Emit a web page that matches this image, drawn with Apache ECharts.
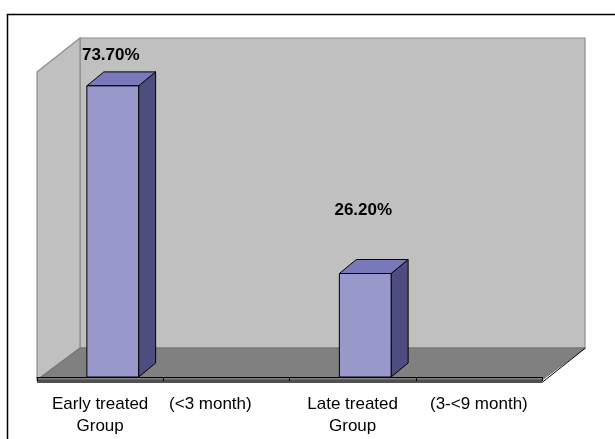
<!DOCTYPE html>
<html>
<head>
<meta charset="utf-8">
<script src="https://cdn.jsdelivr.net/npm/echarts@6/dist/echarts.min.js"></script>
<style>html,body{margin:0;padding:0;background:#fff}#c{width:615px;height:439px}</style>
</head>
<body>
<div id="c"></div>
<script>
const categories = ['Early treated\nGroup', '(<3 month)', 'Late treated\nGroup', '(3-<9 month)'];
const values = [73.7, null, 26.2, null];
const yMin = 0;
const yMax = 80;

const FONT = '"Liberation Sans", Arial, sans-serif';
const labelLift = [31, 63];

const chart = echarts.init(document.getElementById('c'), null, {renderer: 'canvas'});

const barData = [];
values.forEach(function (v, i) { if (v !== null) barData.push([i, v]); });

const option = {
  backgroundColor: '#ffffff',
  animation: false,
  grid: {left: 37, right: 73, top: 61, bottom: 62},
  graphic: [
    {type: 'rect', z: -5, shape: {x: 7.5, y: 14.5, width: 640, height: 460},
     style: {fill: null, stroke: '#000', lineWidth: 1.5}},
    {type: 'polygon', z: -4, shape: {points: [[80, 38], [585, 38], [585, 348], [80, 348]]},
     style: {fill: '#C0C0C0', stroke: '#8C8C8C', lineWidth: 1.2}},
    {type: 'polygon', z: -4, shape: {points: [[37, 72], [80, 38], [80, 348], [37, 380]]},
     style: {fill: '#C0C0C0', stroke: '#8C8C8C', lineWidth: 1.2}},
    {type: 'polygon', z: -3, shape: {points: [[80, 348], [585, 348], [542, 380], [37, 380]]},
     style: {fill: '#808080', stroke: '#707070', lineWidth: 1}},
    {type: 'polygon', z: -3, shape: {points: [[37, 379.5], [542, 379.5], [542, 383], [37, 383]]},
     style: {fill: '#505050', stroke: null}},
    {type: 'line', z: -2, shape: {x1: 542, y1: 382.5, x2: 585.5, y2: 348},
     style: {stroke: '#000', lineWidth: 1}}
  ],
  xAxis: {
    type: 'category',
    data: categories.map(function (c, i) {
      if (i === 1) return {value: c, textStyle: {padding: [0, 32, 0, 0]}};
      return c;
    }),
    offset: 6,
    axisLine: {show: true, lineStyle: {color: '#000', width: 1}},
    axisTick: {show: true, length: 4, lineStyle: {color: '#000'}},
    axisLabel: {
      interval: 0, margin: 10, color: '#000', fontSize: 17, fontFamily: FONT,
      lineHeight: 22
    },
    splitLine: {show: false}
  },
  yAxis: {
    type: 'value', min: yMin, max: yMax, show: false, splitLine: {show: false}
  },
  series: [{
    type: 'custom',
    data: barData,
    z: 5,
    renderItem: function (params, api) {
      const cat = api.value(0), v = api.value(1);
      const top = api.coord([cat, v]);
      const base = api.coord([cat, 0]);
      const bw = api.size([1, 0])[0];
      const w = bw * 0.41;
      const cx = top[0] + bw * 0.1;
      const x0 = cx - w / 2, x1 = cx + w / 2;
      const dx = 17, dy = -14;
      const ty = top[1], by = base[1];
      const lift = labelLift[params.dataIndex];
      return {
        type: 'group',
        children: [
          {type: 'polygon', shape: {points: [[x1, ty], [x1 + dx, ty + dy], [x1 + dx, by + dy], [x1, by]]},
           style: {fill: '#4D4D80', stroke: '#000', lineWidth: 1}},
          {type: 'polygon', shape: {points: [[x0, ty], [x0 + dx, ty + dy], [x1 + dx, ty + dy], [x1, ty]]},
           style: {fill: '#7878BA', stroke: '#000', lineWidth: 1}},
          {type: 'polygon', shape: {points: [[x0, ty], [x1, ty], [x1, by], [x0, by]]},
           style: {fill: '#9898CA', stroke: '#000', lineWidth: 1}},
          {type: 'text', x: cx - 2, y: ty - lift,
           style: {text: v.toFixed(2) + '%', fill: '#000', font: 'bold 17px ' + FONT,
                   align: 'center', verticalAlign: 'middle'}}
        ]
      };
    }
  }]
};
chart.setOption(option);
</script>
</body>
</html>
